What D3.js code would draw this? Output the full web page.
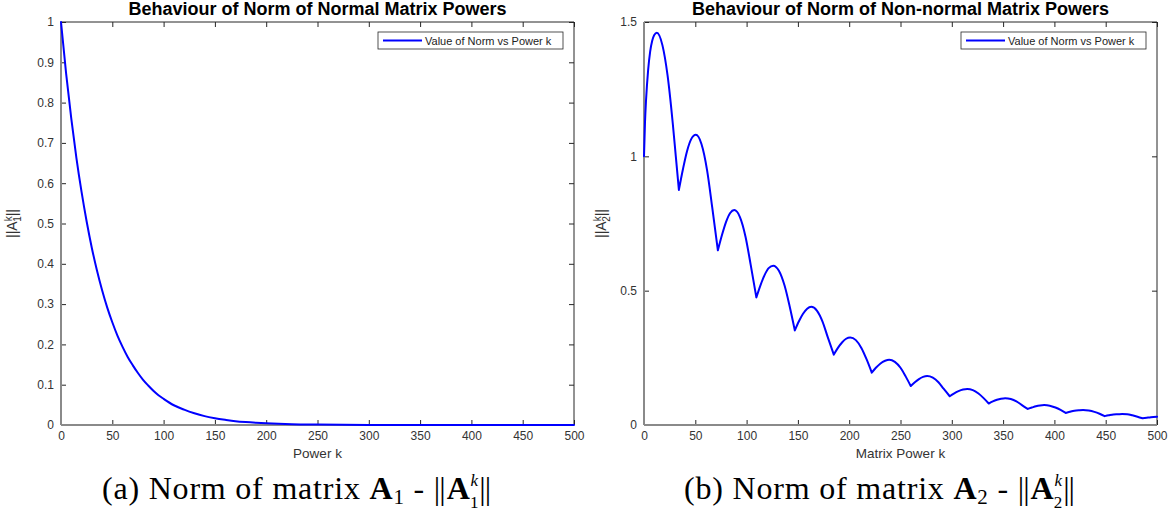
<!DOCTYPE html>
<html>
<head>
<meta charset="utf-8">
<script src="https://cdn.jsdelivr.net/npm/d3@7"></script>
<style>
  body { margin: 0; background: #fff; }
  svg { display: block; }
  .sans { font-family: "Liberation Sans", Arial, Helvetica, sans-serif; }
  .serif { font-family: "Liberation Serif", "Times New Roman", serif; }
</style>
</head>
<body>
<svg id="fig" width="1172" height="512"></svg>
<script>
// ---- data -------------------------------------------------------------
// ||A1^k|| for the normal matrix
const normalK = [0, 5, 10, 15, 20, 25, 30, 35, 40, 45, 50, 55, 60, 65, 70, 75, 80, 85, 90, 95,
  100, 110, 120, 130, 140, 150, 160, 170, 180, 190, 200, 225, 250, 300, 350, 400, 450, 500];
const normalNorm = [1.0, 0.872, 0.761, 0.663, 0.579, 0.505, 0.440, 0.384, 0.335, 0.292, 0.255,
  0.222, 0.194, 0.169, 0.148, 0.129, 0.112, 0.098, 0.085, 0.074, 0.065, 0.049, 0.038, 0.029,
  0.022, 0.017, 0.013, 0.0095, 0.0072, 0.0055, 0.0042, 0.002, 0.0011, 0.0003, 0.0001, 0, 0, 0];

// ||A2^k|| for the non-normal matrix
const nonNormalK = [
  0, 1, 2, 4, 6, 8, 10, 12.5, 18, 23, 28, 31,
  34, 38, 42, 46, 50.5, 56, 61.5, 66.5,
  72, 76, 80, 84, 88, 93.5, 99, 104,
  109.5, 113.5, 117.5, 121.5, 126, 131.5, 137, 142,
  147, 151, 155, 159, 163, 168.5, 174, 179,
  185, 189, 193, 197, 201, 206.5, 212, 217,
  222, 226, 230.5, 235, 239, 244.5, 250, 255,
  260, 264, 268, 272, 276, 281.5, 287, 292,
  298, 302, 306.5, 311, 315, 320.5, 326, 331,
  336, 340, 344, 348, 352, 357.5, 363, 368,
  374, 378, 382, 386, 390, 395.5, 401, 406,
  411, 415, 419.5, 424, 428, 433.5, 439, 444,
  449, 453, 457.5, 462, 466, 471, 476, 481,
  486, 490, 494, 500];
const nonNormalNorm = [
  1.0, 1.13, 1.21, 1.32, 1.39, 1.43, 1.452, 1.46, 1.413, 1.30, 1.124, 1.0,
  0.875, 0.953, 1.020, 1.064, 1.08, 1.046, 0.948, 0.810,
  0.65, 0.707, 0.756, 0.789, 0.80, 0.774, 0.700, 0.596,
  0.475, 0.520, 0.558, 0.584, 0.593, 0.574, 0.519, 0.441,
  0.352, 0.386, 0.414, 0.433, 0.44, 0.426, 0.385, 0.328,
  0.262, 0.287, 0.307, 0.321, 0.326, 0.316, 0.286, 0.244,
  0.195, 0.213, 0.229, 0.239, 0.243, 0.235, 0.213, 0.181,
  0.145, 0.159, 0.171, 0.179, 0.182, 0.176, 0.159, 0.135,
  0.107, 0.117, 0.126, 0.132, 0.134, 0.130, 0.117, 0.100,
  0.080, 0.088, 0.094, 0.098, 0.100, 0.097, 0.088, 0.075,
  0.060, 0.065, 0.070, 0.073, 0.074, 0.072, 0.065, 0.056,
  0.045, 0.049, 0.053, 0.055, 0.056, 0.054, 0.049, 0.042,
  0.033, 0.036, 0.039, 0.040, 0.041, 0.040, 0.036, 0.031,
  0.025, 0.027, 0.029, 0.031];

const xTicks = [0, 50, 100, 150, 200, 250, 300, 350, 400, 450, 500];
const normalYTicks = [0, 0.1, 0.2, 0.3, 0.4, 0.5, 0.6, 0.7, 0.8, 0.9, 1];
const nonNormalYTicks = [0, 0.5, 1, 1.5];

const panelTitles = ["Behaviour of Norm of Normal Matrix Powers",
                     "Behaviour of Norm of Non-normal Matrix Powers"];
const xAxisLabels = ["Power k", "Matrix Power k"];
const legendText = "Value of Norm vs Power k";
const captionLetters = ["(a)", "(b)"];
const matrixIndex = ["1", "2"];

// ---- drawing ----------------------------------------------------------
const svg = d3.select("#fig");
const BLUE = "#0000ff";
const AXIS_DARK = "#262626";

function drawPanel(o) {
  const g = svg.append("g").attr("class", "sans");
  const x = d3.scaleLinear().domain([0, 500]).range([o.left, o.right]);
  const y = d3.scaleLinear().domain(o.yDomain).range([o.bottom, o.top]);
  const fmt = d3.format("~g");

  // tick marks pointing inward on all four sides
  const bottomAx = d3.axisBottom(x).tickValues(xTicks).tickSize(-5).tickSizeOuter(0)
    .tickPadding(6).tickFormat(fmt);
  const topAx = d3.axisTop(x).tickValues(xTicks).tickSize(-5).tickSizeOuter(0).tickFormat("");
  const leftAx = d3.axisLeft(y).tickValues(o.yTicks).tickSize(-5).tickSizeOuter(0)
    .tickPadding(7).tickFormat(fmt);
  const rightAx = d3.axisRight(y).tickValues(o.yTicks).tickSize(-5).tickSizeOuter(0).tickFormat("");

  const styleAxis = sel => {
    sel.select(".domain").remove();
    sel.selectAll(".tick line").attr("stroke", AXIS_DARK).attr("stroke-width", 1);
    sel.selectAll(".tick text").attr("fill", "#333").style("font-size", "12px")
      .style("font-family", "\"Liberation Sans\", Arial, sans-serif");
  };
  g.append("g").attr("transform", `translate(0,${o.bottom})`).call(bottomAx).call(styleAxis);
  g.append("g").attr("transform", `translate(0,${o.top})`).call(topAx).call(styleAxis);
  g.append("g").attr("transform", `translate(${o.left},0)`).call(leftAx).call(styleAxis);
  g.append("g").attr("transform", `translate(${o.right},0)`).call(rightAx).call(styleAxis);

  // box: top/right dark, left/bottom grey axis lines
  g.append("line").attr("x1", o.left).attr("x2", o.right).attr("y1", o.top).attr("y2", o.top)
    .attr("stroke", AXIS_DARK).attr("stroke-width", 1);
  g.append("line").attr("x1", o.right).attr("x2", o.right).attr("y1", o.top).attr("y2", o.bottom)
    .attr("stroke", AXIS_DARK).attr("stroke-width", 1);
  g.append("line").attr("x1", o.left).attr("x2", o.left).attr("y1", o.top).attr("y2", o.bottom)
    .attr("stroke", "#8a8a8a").attr("stroke-width", 2);
  g.append("line").attr("x1", o.left).attr("x2", o.right).attr("y1", o.bottom).attr("y2", o.bottom)
    .attr("stroke", "#8a8a8a").attr("stroke-width", 2);

  // data curve; each arch between local minima gets its own smooth piece
  const pts = o.k.map((k, i) => [k, o.v[i]]);
  const breaks = [0];
  for (let i = 1; i < pts.length - 1; i++) {
    if (pts[i][1] < pts[i - 1][1] && pts[i][1] < pts[i + 1][1]) breaks.push(i);
  }
  breaks.push(pts.length - 1);
  const line = d3.line().x(d => x(d[0])).y(d => y(d[1])).curve(d3.curveMonotoneX);
  let dPath = "";
  for (let b = 0; b < breaks.length - 1; b++) {
    dPath += line(pts.slice(breaks[b], breaks[b + 1] + 1));
  }
  g.append("path").attr("d", dPath).attr("fill", "none").attr("stroke", BLUE)
    .attr("stroke-width", 2).attr("stroke-linejoin", "round").attr("stroke-linecap", "round");

  // title
  g.append("text").attr("x", (o.left + o.right) / 2).attr("y", 15)
    .attr("text-anchor", "middle").style("font-weight", "bold").style("font-size", "18px")
    .attr("fill", "#000").text(o.title);

  // x-axis label
  g.append("text").attr("x", (o.left + o.right) / 2).attr("y", 458)
    .attr("text-anchor", "middle").style("font-size", "13.5px").attr("fill", "#333").text(o.xLabel);

  // y-axis label ||A_i^k||
  const yl = g.append("text").attr("text-anchor", "middle").attr("fill", "#333")
    .attr("transform", `translate(${o.yLabelX},${(o.top + o.bottom) / 2}) rotate(-90)`)
    .style("font-size", "14px");
  yl.append("tspan").text("||A");
  yl.append("tspan").attr("dy", -5).style("font-size", "10px").text("k");
  yl.append("tspan").attr("dx", -5.5).attr("dy", 9).style("font-size", "10px").text(o.idx);
  yl.append("tspan").attr("dy", -4).text("||");

  // legend
  const lw = 185, lh = 17;
  const lx = o.right - 11 - lw, ly = o.top + 10;
  g.append("rect").attr("x", lx).attr("y", ly).attr("width", lw).attr("height", lh)
    .attr("fill", "#fff").attr("stroke", AXIS_DARK).attr("stroke-width", 0.8);
  g.append("line").attr("x1", lx + 5).attr("x2", lx + 44).attr("y1", ly + lh / 2).attr("y2", ly + lh / 2)
    .attr("stroke", BLUE).attr("stroke-width", 2);
  g.append("text").attr("x", lx + 47).attr("y", ly + lh / 2 + 4).style("font-size", "11px")
    .attr("fill", "#222").text(legendText);

  // caption below the panel
  const cap = svg.append("text").attr("class", "serif").attr("x", o.captionX).attr("y", 499)
    .attr("text-anchor", "middle").style("font-size", "32px").style("letter-spacing", "0.8px")
    .attr("fill", "#000");
  cap.append("tspan").text(o.letter + " Norm of matrix ");
  cap.append("tspan").style("font-weight", "bold").text("A");
  cap.append("tspan").attr("dy", 5).style("font-size", "21px").text(o.idx);
  cap.append("tspan").attr("dy", -5).text(" - ");
  cap.append("tspan").style("letter-spacing", "-1px").text("||");
  cap.append("tspan").attr("dx", 2).style("font-weight", "bold").text("A");
  cap.append("tspan").attr("dy", -13).style("font-size", "17px").style("font-style", "italic").text("k");
  cap.append("tspan").attr("dx", -9).attr("dy", 22).style("font-size", "17px").text(o.idx);
  cap.append("tspan").attr("dy", -9).style("letter-spacing", "-1px").text("||");
}

drawPanel({
  left: 61, right: 574, top: 22, bottom: 425,
  yDomain: [0, 1], yTicks: normalYTicks,
  k: normalK, v: normalNorm,
  title: panelTitles[0], xLabel: xAxisLabels[0],
  idx: matrixIndex[0], yLabelX: 17,
  letter: captionLetters[0], captionX: 296
});
drawPanel({
  left: 644, right: 1157, top: 22, bottom: 425,
  yDomain: [0, 1.5], yTicks: nonNormalYTicks,
  k: nonNormalK, v: nonNormalNorm,
  title: panelTitles[1], xLabel: xAxisLabels[1],
  idx: matrixIndex[1], yLabelX: 606,
  letter: captionLetters[1], captionX: 879
});
</script>
</body>
</html>
